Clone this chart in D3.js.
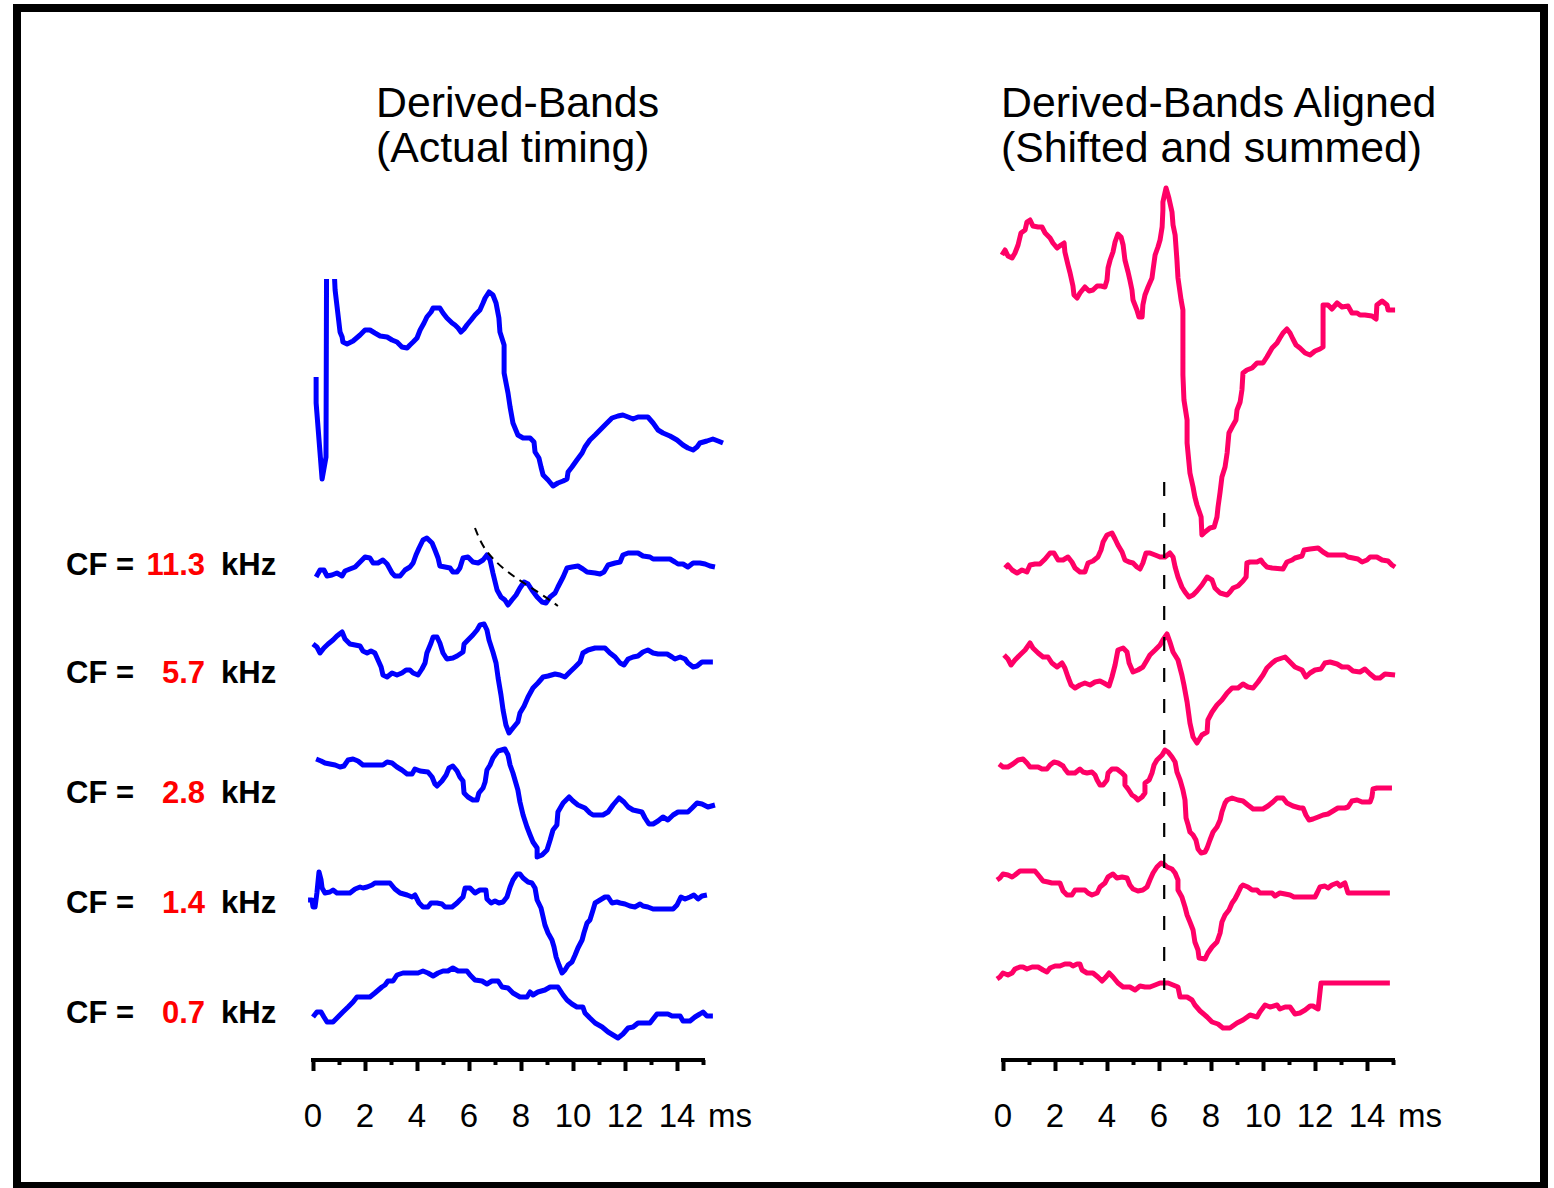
<!DOCTYPE html>
<html>
<head>
<meta charset="utf-8">
<title>Derived-Bands</title>
<script src="https://cdn.jsdelivr.net/npm/d3@7"></script>
<style>
  html, body { margin: 0; padding: 0; background: #fff; }
  svg { display: block; }
  text { font-family: "Liberation Sans", Arial, sans-serif; }
</style>
</head>
<body>
<svg id="chart" width="1554" height="1188"></svg>
<script>
// ---- data: [time (ms), amplitude (arb. units)] ----
const cfLabels = ["11.3", "5.7", "2.8", "1.4", "0.7"];
const tickValues = [0, 2, 4, 6, 8, 10, 12, 14];
const alignLatency = 6.2;          // ms, peak latency the bands are shifted to

const sumActual = [[0.12,2.3],[0.12,-0.3],[0.35,-7.9],[0.5,-5.7],[0.52,12],[0.67,40],[0.83,12.1],[0.85,11],[1.04,6.8],[1.12,6.3],[1.15,5.8],[1.31,5.6],[1.54,5.9],[1.81,6.5],[2.0,7.0],[2.19,7.0],[2.38,6.7],[2.58,6.4],[2.85,6.3],[3.04,6.0],[3.23,5.8],[3.42,5.3],[3.62,5.2],[3.73,5.5],[3.85,5.8],[4.0,6.2],[4.12,7.0],[4.27,7.7],[4.38,8.3],[4.54,8.8],[4.62,9.2],[4.88,9.2],[5.0,8.7],[5.15,8.2],[5.35,7.7],[5.46,7.5],[5.58,7.2],[5.69,6.8],[5.81,7.1],[5.92,7.5],[6.08,8.0],[6.23,8.5],[6.42,9.0],[6.54,9.7],[6.62,10.2],[6.77,10.8],[6.92,10.5],[7.04,9.7],[7.15,8.2],[7.19,6.8],[7.35,5.5],[7.35,2.7],[7.5,0.7],[7.58,-0.7],[7.69,-2.3],[7.88,-3.5],[8.08,-3.8],[8.35,-3.8],[8.5,-4.2],[8.54,-5.2],[8.69,-5.8],[8.77,-6.7],[8.85,-7.5],[9.04,-8.0],[9.23,-8.6],[9.42,-8.3],[9.62,-8.1],[9.77,-7.9],[9.81,-7.2],[9.96,-6.7],[10.15,-6.0],[10.35,-5.3],[10.46,-4.7],[10.65,-4.0],[10.85,-3.5],[11.04,-3.0],[11.23,-2.5],[11.5,-1.8],[11.73,-1.6],[11.92,-1.5],[12.12,-1.7],[12.31,-1.9],[12.5,-1.7],[12.88,-1.7],[13.08,-2.3],[13.27,-3.0],[13.46,-3.3],[13.73,-3.6],[14.0,-4.0],[14.23,-4.5],[14.42,-4.8],[14.62,-5.0],[14.77,-4.7],[14.88,-4.3],[15.15,-4.1],[15.38,-3.9],[15.58,-4.1],[15.77,-4.3]];

const band113Actual = [[0.12,-1.2],[0.27,-0.5],[0.42,-0.5],[0.54,-1.1],[0.73,-1.0],[0.92,-0.8],[1.12,-1.1],[1.23,-0.6],[1.42,-0.4],[1.62,-0.2],[1.81,0.3],[2.0,0.8],[2.19,0.7],[2.31,0.2],[2.5,0.2],[2.69,0.5],[2.85,0.1],[3.04,-0.8],[3.15,-1.1],[3.35,-1.1],[3.54,-0.5],[3.73,-0.2],[3.85,0.2],[3.96,1.0],[4.08,1.7],[4.23,2.5],[4.38,2.7],[4.58,2.2],[4.69,1.5],[4.81,0.7],[4.88,-0.1],[5.08,-0.2],[5.27,-0.3],[5.38,-0.7],[5.54,-0.7],[5.65,-0.3],[5.77,0.7],[5.96,0.8],[6.15,0.3],[6.35,0.2],[6.54,0.5],[6.69,1.0],[6.81,0.5],[6.92,-0.8],[7.08,-2.5],[7.23,-3.2],[7.38,-3.5],[7.5,-4.0],[7.65,-3.5],[7.81,-3.0],[7.96,-2.3],[8.12,-1.7],[8.27,-1.9],[8.42,-2.5],[8.62,-3.2],[8.81,-3.7],[8.96,-3.8],[9.12,-3.2],[9.31,-2.8],[9.42,-2.2],[9.62,-1.2],[9.77,-0.3],[9.96,-0.2],[10.19,-0.1],[10.38,-0.4],[10.54,-0.7],[10.85,-0.8],[11.04,-0.9],[11.19,-0.7],[11.35,0.0],[11.62,0.2],[11.81,0.3],[11.92,1.0],[12.12,1.2],[12.5,1.2],[12.69,0.9],[12.96,0.8],[13.08,0.6],[13.73,0.6],[13.92,0.3],[14.04,0.1],[14.23,0.1],[14.42,-0.2],[14.62,0.2],[14.88,0.2],[15.08,0.1],[15.27,-0.1],[15.46,-0.2]];

const band57Actual = [[0.0,2.1],[0.15,1.8],[0.27,1.2],[0.42,1.7],[0.58,2.1],[0.77,2.5],[0.92,2.9],[1.12,3.3],[1.23,2.6],[1.42,2.1],[1.62,2.0],[1.81,1.9],[1.92,1.4],[2.08,1.2],[2.23,1.4],[2.38,1.2],[2.5,0.5],[2.62,-0.2],[2.69,-1.0],[2.85,-1.2],[3.04,-0.8],[3.23,-1.0],[3.42,-0.8],[3.58,-0.5],[3.73,-0.5],[3.85,-0.8],[4.04,-1.0],[4.19,-0.4],[4.31,0.2],[4.38,1.2],[4.54,2.2],[4.62,2.8],[4.77,2.8],[4.88,2.2],[5.0,1.2],[5.15,0.6],[5.38,0.7],[5.54,0.9],[5.77,1.3],[5.81,2.1],[5.96,2.5],[6.15,3.0],[6.31,3.5],[6.42,4.0],[6.58,4.1],[6.69,3.5],[6.77,2.5],[6.92,1.3],[7.04,0.2],[7.12,-1.3],[7.23,-3.0],[7.31,-4.5],[7.42,-6.0],[7.54,-6.8],[7.69,-6.3],[7.88,-5.7],[7.96,-4.8],[8.12,-4.1],[8.27,-3.2],[8.46,-2.3],[8.65,-1.8],[8.85,-1.2],[9.04,-1.1],[9.31,-0.9],[9.5,-1.0],[9.69,-1.2],[9.88,-0.7],[10.08,-0.2],[10.27,0.3],[10.38,1.2],[10.58,1.5],[10.85,1.7],[11.23,1.7],[11.42,1.2],[11.62,0.8],[11.81,0.2],[11.96,0.0],[12.12,0.6],[12.31,0.8],[12.5,0.9],[12.69,1.3],[12.88,1.5],[13.08,1.2],[13.27,1.1],[13.62,1.1],[13.81,0.8],[13.92,0.6],[14.12,0.8],[14.31,0.6],[14.42,0.2],[14.62,-0.2],[14.77,-0.1],[14.96,0.3],[15.38,0.3]];

const band28Actual = [[0.12,3.1],[0.31,2.9],[0.46,2.7],[0.65,2.6],[0.85,2.5],[1.04,2.3],[1.19,2.4],[1.35,3.0],[1.54,3.1],[1.73,2.9],[1.92,2.5],[2.69,2.5],[2.85,2.8],[3.04,2.7],[3.23,2.3],[3.42,2.0],[3.62,1.6],[3.81,1.6],[3.92,2.1],[4.12,1.9],[4.42,1.8],[4.58,1.3],[4.69,0.6],[4.77,0.4],[4.96,0.9],[5.12,1.5],[5.23,2.2],[5.38,2.4],[5.54,1.9],[5.65,1.3],[5.77,0.9],[5.81,-0.3],[5.96,-0.7],[6.15,-1.0],[6.31,-1.0],[6.38,-0.3],[6.54,0.2],[6.62,0.8],[6.69,2.0],[6.81,2.5],[6.92,3.2],[7.12,3.9],[7.38,4.1],[7.5,3.5],[7.58,2.5],[7.69,1.7],[7.88,0.0],[7.96,-1.2],[8.08,-2.5],[8.23,-3.7],[8.35,-4.5],[8.46,-5.2],[8.62,-5.8],[8.62,-6.7],[8.81,-6.5],[9.0,-6.0],[9.12,-5.0],[9.23,-4.0],[9.38,-3.5],[9.42,-2.2],[9.62,-1.3],[9.85,-0.7],[10.0,-1.1],[10.19,-1.5],[10.46,-1.8],[10.65,-2.3],[10.77,-2.5],[11.15,-2.5],[11.35,-2.2],[11.54,-1.5],[11.77,-0.8],[11.96,-1.2],[12.12,-1.7],[12.31,-2.0],[12.65,-2.2],[12.77,-2.8],[12.92,-3.4],[13.08,-3.4],[13.27,-3.1],[13.46,-2.7],[13.65,-3.0],[13.85,-2.5],[14.04,-2.2],[14.42,-2.2],[14.58,-1.8],[14.77,-1.3],[14.96,-1.4],[15.19,-1.7],[15.46,-1.5]];

const band14Actual = [[-0.19,-0.5],[-0.04,-0.5],[0.0,-1.2],[0.08,-1.2],[0.15,0.2],[0.23,2.3],[0.31,1.5],[0.35,0.7],[0.46,0.2],[0.65,0.3],[0.77,0.5],[0.92,0.2],[1.42,0.2],[1.62,0.6],[1.81,0.8],[1.92,0.7],[2.08,0.8],[2.27,1.0],[2.38,1.2],[2.96,1.2],[3.15,0.6],[3.35,0.2],[3.62,0.0],[3.81,-0.2],[3.92,0.0],[4.08,-0.8],[4.23,-1.2],[4.42,-1.2],[4.54,-0.8],[4.77,-0.8],[4.96,-0.9],[5.08,-1.2],[5.35,-1.2],[5.54,-0.8],[5.65,-0.5],[5.77,-0.2],[5.85,0.7],[6.04,0.7],[6.23,0.2],[6.42,0.5],[6.65,0.5],[6.69,-0.4],[6.85,-0.8],[7.0,-0.6],[7.15,-0.8],[7.31,-0.7],[7.46,-0.2],[7.58,0.8],[7.69,1.5],[7.85,2.1],[7.96,2.1],[8.08,1.7],[8.27,1.3],[8.42,1.2],[8.54,0.7],[8.62,-0.5],[8.77,-1.3],[8.85,-2.2],[8.92,-3.0],[9.04,-3.8],[9.19,-4.5],[9.27,-5.2],[9.35,-6.2],[9.46,-7.0],[9.58,-7.8],[9.69,-7.5],[9.81,-7.0],[9.96,-6.7],[10.08,-6.0],[10.19,-5.3],[10.35,-4.5],[10.42,-3.8],[10.54,-2.8],[10.65,-2.5],[10.77,-1.5],[10.85,-0.8],[11.04,-0.5],[11.23,-0.2],[11.35,-0.2],[11.5,-0.8],[11.69,-0.7],[11.81,-0.8],[12.0,-0.9],[12.19,-1.1],[12.38,-1.2],[12.58,-0.9],[12.69,-1.1],[12.88,-1.2],[13.08,-1.4],[13.85,-1.4],[14.0,-1.0],[14.15,-0.2],[14.31,-0.4],[14.5,-0.2],[14.65,0.0],[14.81,-0.4],[14.96,-0.1],[15.15,0.0]];

const band07Actual = [[0.0,-0.7],[0.15,-0.2],[0.31,-0.2],[0.42,-0.7],[0.54,-1.2],[0.77,-1.2],[0.96,-0.7],[1.15,-0.2],[1.35,0.3],[1.54,0.8],[1.69,1.3],[2.19,1.3],[2.38,1.7],[2.65,2.3],[2.77,2.5],[2.88,2.9],[3.08,2.9],[3.23,3.5],[3.46,3.7],[4.04,3.7],[4.23,3.9],[4.42,3.7],[4.62,3.4],[4.81,3.7],[5.0,3.9],[5.19,3.9],[5.38,4.2],[5.58,3.9],[5.92,3.9],[6.04,3.5],[6.23,3.0],[6.5,2.9],[6.69,2.6],[6.88,2.9],[7.12,2.9],[7.27,2.3],[7.5,2.2],[7.69,1.7],[7.96,1.3],[8.23,1.3],[8.35,1.8],[8.46,1.5],[8.65,1.8],[8.92,2.0],[9.12,2.3],[9.42,2.3],[9.62,1.5],[9.77,1.0],[9.96,0.6],[10.15,0.3],[10.38,0.3],[10.46,-0.3],[10.65,-0.8],[10.85,-1.3],[11.12,-1.7],[11.35,-2.2],[11.54,-2.5],[11.73,-2.8],[11.92,-2.4],[12.12,-1.8],[12.31,-1.7],[12.5,-1.3],[12.96,-1.3],[13.08,-0.9],[13.23,-0.4],[13.65,-0.4],[13.81,-0.6],[14.12,-0.6],[14.23,-1.1],[14.5,-1.1],[14.69,-0.7],[14.88,-0.4],[15.0,-0.2],[15.15,-0.6],[15.38,-0.6]];

// latency trajectory drawn over the 11.3 kHz band
const latencyTrend = [[6.23,3.7],[6.38,2.7],[6.58,1.7],[6.88,0.7],[7.46,-0.7],[8.23,-2.0],[9.0,-3.3],[9.42,-4.1]];

const sumAligned = [[-0.04,7.5],[0.08,8.0],[0.19,7.4],[0.35,7.2],[0.46,7.7],[0.58,8.5],[0.69,9.7],[0.85,10.0],[0.92,10.8],[1.04,11.0],[1.15,10.4],[1.35,10.3],[1.5,10.3],[1.62,9.7],[1.81,9.2],[1.92,8.7],[2.08,8.2],[2.23,8.5],[2.35,8.7],[2.38,7.8],[2.5,6.5],[2.58,5.7],[2.69,4.4],[2.73,3.5],[2.85,3.2],[2.96,3.7],[3.15,4.3],[3.31,3.9],[3.46,4.0],[3.62,4.4],[3.77,4.4],[3.92,4.3],[4.0,5.0],[4.04,6.2],[4.12,7.0],[4.23,7.8],[4.31,8.8],[4.42,9.6],[4.54,9.3],[4.62,8.5],[4.69,7.0],[4.81,5.8],[4.88,5.0],[4.96,4.0],[5.0,3.0],[5.15,2.0],[5.23,1.3],[5.35,1.3],[5.38,2.5],[5.46,3.5],[5.58,4.3],[5.73,5.2],[5.77,6.0],[5.85,7.5],[5.96,8.3],[6.04,9.0],[6.12,10.3],[6.15,12.0],[6.15,12.8],[6.27,14.2],[6.38,13.2],[6.5,11.8],[6.54,10.5],[6.62,9.5],[6.69,7.0],[6.73,5.2],[6.85,3.0],[6.92,2.0],[6.92,-4.5],[6.96,-7.0],[7.08,-9.0],[7.08,-11.3],[7.19,-14.3],[7.31,-15.7],[7.38,-16.7],[7.46,-17.5],[7.62,-18.7],[7.65,-20.5],[7.77,-20.2],[7.96,-19.8],[8.12,-19.7],[8.23,-18.7],[8.27,-17.7],[8.35,-16.2],[8.42,-14.7],[8.54,-13.7],[8.62,-12.3],[8.69,-10.3],[8.81,-9.7],[8.96,-9.0],[9.0,-8.0],[9.12,-7.2],[9.19,-6.0],[9.23,-4.3],[9.38,-4.0],[9.58,-3.8],[9.77,-3.3],[10.0,-3.3],[10.15,-2.7],[10.35,-1.8],[10.54,-1.3],[10.65,-0.8],[10.77,-0.3],[10.92,0.1],[11.04,-0.3],[11.15,-0.9],[11.27,-1.5],[11.42,-1.8],[11.62,-2.3],[11.81,-2.5],[12.0,-2.1],[12.19,-1.9],[12.31,-1.7],[12.31,2.5],[12.5,2.5],[12.65,2.1],[12.85,2.7],[13.04,2.3],[13.27,2.4],[13.42,1.7],[13.62,1.7],[13.73,1.5],[13.92,1.5],[14.19,1.4],[14.35,1.1],[14.38,2.5],[14.58,2.9],[14.77,2.5],[14.81,2.0],[15.08,2.0]];

const band113Aligned = [[0.08,-0.3],[0.19,0.0],[0.35,-0.5],[0.54,-0.8],[0.73,-0.5],[0.92,-0.7],[1.04,0.0],[1.23,0.1],[1.42,0.1],[1.62,0.6],[1.81,1.2],[1.96,1.2],[2.12,0.5],[2.31,0.5],[2.5,0.8],[2.65,0.3],[2.77,-0.3],[2.96,-0.7],[3.15,-0.7],[3.27,0.2],[3.46,0.4],[3.65,0.8],[3.77,1.5],[3.85,2.3],[4.0,3.0],[4.19,3.2],[4.31,2.6],[4.42,2.0],[4.58,1.3],[4.69,0.5],[4.85,0.3],[5.0,0.2],[5.15,-0.2],[5.27,-0.4],[5.38,0.2],[5.5,1.2],[5.65,1.2],[5.85,1.0],[6.04,0.8],[6.23,0.8],[6.42,1.2],[6.54,0.8],[6.62,-0.2],[6.73,-1.2],[6.88,-2.2],[7.0,-2.7],[7.15,-3.2],[7.31,-3.0],[7.46,-2.6],[7.65,-2.0],[7.85,-1.2],[8.04,-1.5],[8.15,-2.3],[8.35,-2.8],[8.62,-3.0],[8.73,-2.7],[8.85,-2.3],[9.04,-2.1],[9.23,-1.6],[9.35,-1.2],[9.38,0.2],[9.5,0.3],[9.77,0.3],[9.92,0.5],[10.0,0.2],[10.15,-0.2],[10.35,-0.3],[10.77,-0.4],[10.92,0.3],[11.12,0.5],[11.23,0.7],[11.5,0.9],[11.58,1.5],[11.81,1.6],[12.12,1.7],[12.31,1.3],[12.5,1.0],[13.15,1.0],[13.27,0.8],[13.46,0.7],[13.65,0.6],[13.81,0.3],[14.0,0.5],[14.12,0.8],[14.38,0.8],[14.58,0.5],[14.81,0.4],[14.96,0.0],[15.08,-0.2]];

const band57Aligned = [[0.04,1.0],[0.19,0.6],[0.31,0.0],[0.46,0.5],[0.65,1.0],[0.85,1.5],[1.04,2.2],[1.15,1.7],[1.35,1.2],[1.54,0.8],[1.73,0.8],[1.88,0.2],[2.08,-0.2],[2.27,0.2],[2.38,-0.3],[2.5,-1.2],[2.62,-2.0],[2.77,-2.3],[2.96,-2.0],[3.15,-1.8],[3.35,-2.0],[3.54,-1.7],[3.73,-1.6],[3.88,-1.8],[4.08,-2.1],[4.19,-1.2],[4.31,0.0],[4.42,1.5],[4.62,1.7],[4.77,1.3],[4.85,0.2],[5.0,-0.7],[5.19,-0.5],[5.38,-0.2],[5.54,0.5],[5.65,1.0],[5.85,1.5],[6.04,2.0],[6.15,2.5],[6.31,3.1],[6.42,2.3],[6.54,1.3],[6.73,0.5],[6.88,-1.0],[6.96,-2.0],[7.08,-3.7],[7.19,-5.8],[7.31,-7.2],[7.46,-7.8],[7.65,-7.0],[7.85,-6.7],[7.88,-5.5],[8.04,-4.7],[8.23,-4.0],[8.42,-3.5],[8.62,-2.8],[8.81,-2.3],[9.04,-2.3],[9.23,-1.9],[9.42,-2.2],[9.62,-2.3],[9.81,-1.7],[10.0,-1.0],[10.15,-0.3],[10.35,0.2],[10.5,0.5],[10.85,0.8],[11.04,0.3],[11.23,-0.2],[11.5,-0.5],[11.65,-1.2],[11.81,-0.8],[12.0,-0.5],[12.23,-0.4],[12.38,0.2],[12.58,0.3],[12.85,0.1],[13.04,-0.2],[13.27,-0.2],[13.46,-0.6],[13.73,-0.7],[13.92,-0.4],[14.12,-0.9],[14.31,-1.3],[14.5,-1.3],[14.69,-0.9],[15.08,-1.0]];

const band28Aligned = [[-0.15,2.6],[0.0,2.3],[0.19,2.3],[0.38,2.6],[0.58,3.0],[0.77,3.1],[0.92,2.7],[1.04,2.3],[1.35,2.3],[1.5,2.1],[1.69,2.1],[1.81,2.5],[1.96,2.8],[2.12,2.7],[2.31,2.4],[2.38,2.1],[2.5,1.7],[2.77,1.7],[2.96,2.1],[3.08,1.8],[3.23,1.7],[3.42,1.8],[3.54,1.5],[3.62,1.0],[3.73,0.5],[3.85,0.5],[4.0,1.0],[4.04,1.7],[4.19,2.1],[4.38,2.1],[4.58,1.7],[4.69,1.4],[4.69,0.5],[4.81,0.1],[4.96,-0.5],[5.08,-0.7],[5.19,-1.0],[5.35,-0.7],[5.46,-0.3],[5.46,0.7],[5.62,1.0],[5.73,1.7],[5.81,2.5],[5.92,3.0],[6.12,3.5],[6.23,4.0],[6.35,3.8],[6.5,3.3],[6.62,2.8],[6.69,1.8],[6.81,1.0],[6.92,0.0],[7.0,-1.0],[7.04,-2.8],[7.12,-3.5],[7.19,-4.2],[7.31,-4.5],[7.42,-5.0],[7.5,-5.9],[7.62,-6.3],[7.77,-6.2],[7.85,-5.8],[7.96,-5.0],[8.08,-4.2],[8.23,-3.7],[8.35,-3.0],[8.42,-2.2],[8.54,-1.3],[8.62,-1.0],[8.81,-0.8],[9.04,-1.0],[9.23,-1.1],[9.42,-1.5],[9.62,-1.9],[10.0,-1.9],[10.19,-1.6],[10.38,-1.2],[10.54,-0.8],[10.77,-0.8],[10.92,-1.3],[11.15,-1.6],[11.42,-1.8],[11.54,-1.8],[11.65,-2.5],[11.77,-3.0],[11.92,-2.9],[12.12,-2.7],[12.31,-2.5],[12.5,-2.4],[12.69,-2.1],[12.88,-1.8],[13.15,-1.8],[13.27,-1.7],[13.42,-1.1],[13.62,-1.0],[13.81,-1.2],[14.12,-1.2],[14.19,-0.7],[14.23,0.1],[14.38,0.2],[14.96,0.2]];

const band14Aligned = [[-0.23,0.5],[-0.12,0.7],[0.0,1.1],[0.19,1.0],[0.35,0.8],[0.46,1.0],[0.65,1.4],[1.23,1.4],[1.42,0.8],[1.54,0.4],[1.73,0.3],[1.88,0.2],[2.19,0.2],[2.31,-0.6],[2.46,-1.0],[2.65,-1.0],[2.77,-0.5],[3.15,-0.5],[3.27,-0.8],[3.42,-1.0],[3.62,-0.8],[3.73,-0.2],[3.92,0.2],[4.04,0.8],[4.23,1.1],[4.38,0.7],[4.58,0.8],[4.77,0.7],[4.88,0.0],[5.0,-0.4],[5.19,-0.6],[5.38,-0.5],[5.54,-0.2],[5.65,0.5],[5.77,1.2],[5.92,1.8],[6.08,2.2],[6.23,2.0],[6.31,1.8],[6.5,1.6],[6.62,1.2],[6.73,0.5],[6.73,-0.5],[6.88,-1.2],[7.0,-2.2],[7.08,-3.0],[7.19,-3.7],[7.31,-4.5],[7.38,-5.7],[7.5,-6.5],[7.54,-7.3],[7.77,-7.4],[7.88,-6.8],[8.04,-6.2],[8.23,-5.7],[8.35,-4.8],[8.42,-3.7],[8.54,-3.0],[8.69,-2.5],[8.81,-1.8],[8.92,-1.4],[9.04,-0.8],[9.15,-0.2],[9.23,0.0],[9.42,-0.2],[9.58,-0.5],[9.77,-0.5],[9.88,-0.8],[10.35,-0.8],[10.46,-1.1],[10.65,-0.8],[10.85,-0.9],[11.04,-1.0],[11.19,-1.2],[12.0,-1.2],[12.08,-0.8],[12.19,-0.2],[12.38,-0.1],[12.5,-0.3],[12.65,0.0],[12.85,0.2],[12.96,-0.1],[13.15,0.2],[13.27,-0.8],[14.88,-0.8]];

const band07Aligned = [[-0.23,0.1],[-0.12,0.3],[0.0,0.7],[0.19,0.5],[0.35,0.7],[0.46,1.1],[0.65,1.3],[0.77,1.3],[0.92,1.1],[1.12,1.3],[1.35,1.3],[1.54,1.0],[1.69,0.8],[1.81,1.2],[2.0,1.4],[2.19,1.4],[2.38,1.6],[2.58,1.6],[2.69,1.4],[2.85,1.6],[2.96,1.6],[3.04,1.0],[3.23,0.7],[3.46,0.7],[3.65,0.3],[3.81,-0.1],[3.96,0.3],[4.08,0.7],[4.23,0.3],[4.42,-0.3],[4.62,-0.7],[4.88,-0.7],[5.08,-1.0],[5.27,-0.6],[5.46,-0.7],[5.65,-0.7],[5.85,-0.5],[6.04,-0.3],[6.35,-0.3],[6.54,-0.5],[6.73,-0.7],[6.81,-1.7],[7.08,-1.7],[7.27,-2.0],[7.38,-2.5],[7.58,-3.1],[7.85,-3.7],[8.04,-4.2],[8.27,-4.4],[8.46,-4.8],[8.73,-4.8],[9.0,-4.3],[9.23,-4.0],[9.5,-3.5],[9.77,-3.7],[9.88,-3.2],[10.08,-2.5],[10.27,-2.7],[10.54,-2.5],[10.65,-2.9],[10.85,-2.7],[11.04,-2.7],[11.23,-3.4],[11.42,-3.3],[11.62,-3.0],[11.81,-2.6],[11.92,-2.6],[12.12,-2.9],[12.23,-0.3],[14.88,-0.3]];

// ---- layout ----
const svg = d3.select("#chart");
const W = 1554, H = 1188;
const pxPerUnit = 10;          // vertical gain: px per amplitude unit
const axisY = 1060;

const panels = [
  {
    title: ["Derived-Bands", "(Actual timing)"], titleX: 376,
    x0: 313, color: "#0000ff",
    traces: [sumActual, band113Actual, band57Actual, band28Actual, band14Actual, band07Actual],
    baselines: [400, 565, 665, 790, 895, 1010],
    clipTop: 279
  },
  {
    title: ["Derived-Bands Aligned", "(Shifted and summed)"], titleX: 1001,
    x0: 1003, color: "#ff0066",
    traces: [sumAligned, band113Aligned, band57Aligned, band28Aligned, band14Aligned, band07Aligned],
    baselines: [330, 565, 665, 790, 885, 980],
    clipTop: 0
  }
];

// outer frame
svg.append("rect")
  .attr("x", 17).attr("y", 8)
  .attr("width", 1527).attr("height", 1178)
  .attr("fill", "#fff").attr("stroke", "#000").attr("stroke-width", 8);

const defs = svg.append("defs");

panels.forEach((p, pi) => {
  const x = d3.scaleLinear().domain([0, 15]).range([p.x0, p.x0 + 15 * 26]);
  const yFor = base => d3.scaleLinear().domain([-1, 1]).range([base + pxPerUnit, base - pxPerUnit]);

  // titles
  const t = svg.append("text")
    .attr("x", p.titleX).attr("y", 117)
    .attr("font-size", 42.8).attr("fill", "#000");
  t.append("tspan").attr("x", p.titleX).attr("y", 117).text(p.title[0]);
  t.append("tspan").attr("x", p.titleX).attr("y", 162).text(p.title[1]);

  // clip so the stimulus artefact leaves the frame at the top
  const clipId = "clip" + pi;
  defs.append("clipPath").attr("id", clipId)
    .append("rect").attr("x", 0).attr("y", p.clipTop).attr("width", W).attr("height", H - p.clipTop);

  const g = svg.append("g").attr("clip-path", `url(#${clipId})`);

  p.traces.forEach((data, i) => {
    const y = yFor(p.baselines[i]);
    const line = d3.line().x(d => x(d[0])).y(d => y(d[1]));
    g.append("path")
      .datum(data)
      .attr("d", line)
      .attr("fill", "none")
      .attr("stroke", p.color)
      .attr("stroke-width", 5)
      .attr("stroke-linejoin", "round")
      .attr("stroke-linecap", "butt");
  });

  // time axis
  const axis = d3.axisBottom(x)
    .tickValues(d3.range(0, 16))
    .tickSize(10).tickSizeOuter(0)
    .tickFormat("");
  const ga = svg.append("g").attr("transform", `translate(0,${axisY})`).call(axis);
  ga.select(".domain").attr("stroke", "#000").attr("stroke-width", 4)
    .attr("d", `M${x(0) - 2},0H${x(15) + 2}`);
  ga.selectAll(".tick line")
    .attr("stroke", "#000")
    .attr("stroke-width", 4)
    .attr("y1", 0)
    .attr("y2", d => d % 2 === 0 ? 11 : 5);

  const labels = svg.append("g").attr("font-size", 33).attr("fill", "#000");
  labels.selectAll("text.tick-label")
    .data(tickValues)
    .join("text")
    .attr("class", "tick-label")
    .attr("x", d => x(d))
    .attr("y", 1127)
    .attr("text-anchor", "middle")
    .text(d => d);
  labels.append("text")
    .attr("x", x(15) + 5).attr("y", 1127)
    .text("ms");

  p.x = x; p.yFor = yFor;
});

// latency trajectory on the 11.3 kHz band (actual timing)
{
  const p = panels[0];
  const y = p.yFor(p.baselines[1]);
  svg.append("path")
    .datum(latencyTrend)
    .attr("d", d3.line().x(d => p.x(d[0])).y(d => y(d[1])).curve(d3.curveBasis))
    .attr("fill", "none").attr("stroke", "#000")
    .attr("stroke-width", 2).attr("stroke-dasharray", "8,6");
}

// alignment reference line through the shifted bands
{
  const p = panels[1];
  const yTop = p.yFor(p.baselines[1])(8.3);
  const yBot = p.yFor(p.baselines[5])(-1.0);
  svg.append("line")
    .attr("x1", p.x(alignLatency)).attr("x2", p.x(alignLatency))
    .attr("y1", yTop).attr("y2", yBot)
    .attr("stroke", "#000").attr("stroke-width", 2.2)
    .attr("stroke-dasharray", "14,17");
}

// band labels
const labelBaselines = [575, 683, 803, 913, 1023];
const lab = svg.append("g").attr("font-size", 31).attr("font-weight", "bold");
cfLabels.forEach((cf, i) => {
  const yb = labelBaselines[i];
  lab.append("text").attr("x", 66).attr("y", yb).attr("fill", "#000").text("CF =");
  lab.append("text").attr("x", 205).attr("y", yb).attr("text-anchor", "end").attr("fill", "#ff0000").text(cf);
  lab.append("text").attr("x", 221).attr("y", yb).attr("fill", "#000").text("kHz");
});
</script>
</body>
</html>
